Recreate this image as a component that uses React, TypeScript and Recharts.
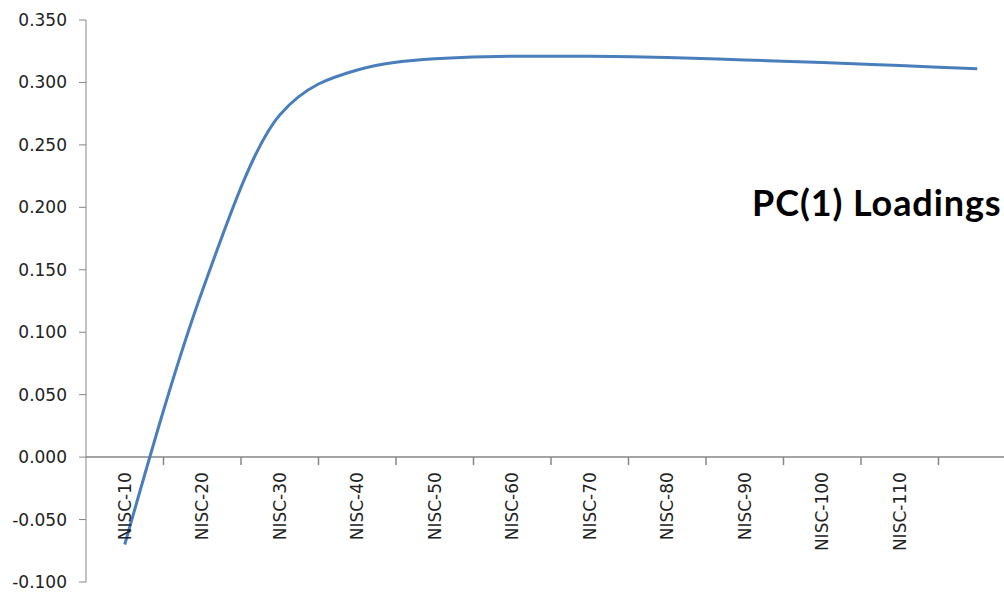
import { LineChart, Line, XAxis, YAxis, ReferenceLine } from 'recharts';

// loadings of the first principal component per NISC variable
const categories = [
  'NISC-10', 'NISC-20', 'NISC-30', 'NISC-40', 'NISC-50', 'NISC-60',
  'NISC-70', 'NISC-80', 'NISC-90', 'NISC-100', 'NISC-110', 'NISC-120',
];
const tickLabels = [
  'NISC-10', 'NISC-20', 'NISC-30', 'NISC-40', 'NISC-50', 'NISC-60',
  'NISC-70', 'NISC-80', 'NISC-90', 'NISC-100', 'NISC-110', '',
];
const loadings = [-0.07, 0.133, 0.274, 0.31, 0.319, 0.321, 0.321, 0.32, 0.318, 0.316, 0.3135, 0.311];
const yTicks = [-0.1, -0.05, 0, 0.05, 0.1, 0.15, 0.2, 0.25, 0.3, 0.35];

const Y_MIN = -0.1;
const Y_MAX = 0.35;

const data = categories.map((name, i) => ({ name, value: loadings[i] }));

const CHART_W = 1030;
const CHART_H = 592;
const Y_AXIS_W = 86;
const X_AXIS_H = 10;
const MARGIN = { top: 20, right: 14, bottom: 0, left: 0 };
const PLOT_H = CHART_H - MARGIN.top - MARGIN.bottom - X_AXIS_H;
const BAND = (CHART_W - MARGIN.left - MARGIN.right - Y_AXIS_W) / categories.length;
// x axis crosses the value axis at zero, not at the bottom
const AXIS_SHIFT = (PLOT_H * (0 - Y_MIN)) / (Y_MAX - Y_MIN);

const axisColor = '#868686';
const textColor = '#222';
const font = '"DejaVu Sans", sans-serif';

function CategoryTick({ x, y, index, payload }: any) {
  const label = tickLabels[index] ?? payload?.value;
  const y0 = y - AXIS_SHIFT;
  const edge = x + BAND / 2;
  return (
    <g>
      {index < categories.length - 1 && (
        <line x1={edge} x2={edge} y1={y0} y2={y0 + 8} stroke={axisColor} strokeWidth={1.5} />
      )}
      <text
        transform={`translate(${x},${y0 + 15}) rotate(-90)`}
        textAnchor="end"
        dy="0.36em"
        fill={textColor}
        fontSize={17}
        fontFamily={font}
      >
        {label}
      </text>
    </g>
  );
}

export default function App() {
  return (
    <div style={{ position: 'fixed', left: 0, top: 0, width: 1004, height: 592, overflow: 'hidden', background: '#fff' }}>
      <LineChart width={CHART_W} height={CHART_H} data={data} margin={MARGIN}>
        <YAxis
          type="number"
          domain={[Y_MIN, Y_MAX]}
          ticks={yTicks}
          width={Y_AXIS_W}
          stroke={axisColor}
          tickSize={7}
          tickMargin={12}
          tickFormatter={(v: number) => v.toFixed(3)}
          tick={{ fill: textColor, fontSize: 17, fontFamily: font }}
          interval={0}
          allowDataOverflow
        />
        <XAxis
          dataKey="name"
          scale="band"
          height={X_AXIS_H}
          axisLine={false}
          tickLine={false}
          tickSize={0}
          tickMargin={0}
          interval={0}
          tick={<CategoryTick />}
        />
        <ReferenceLine y={0} stroke={axisColor} strokeWidth={1.5} />
        <Line
          type="monotone"
          dataKey="value"
          stroke="#4a7ebb"
          strokeWidth={3}
          dot={false}
          isAnimationActive={false}
        />
      </LineChart>
      <div
        style={{
          position: 'absolute',
          left: 752,
          top: 184,
          fontFamily: 'Lato, sans-serif',
          fontWeight: 700,
          fontSize: 36,
          lineHeight: '36px',
          letterSpacing: 0.9,
          color: '#000',
          whiteSpace: 'nowrap',
        }}
      >
        PC(1) Loadings
      </div>
    </div>
  );
}
